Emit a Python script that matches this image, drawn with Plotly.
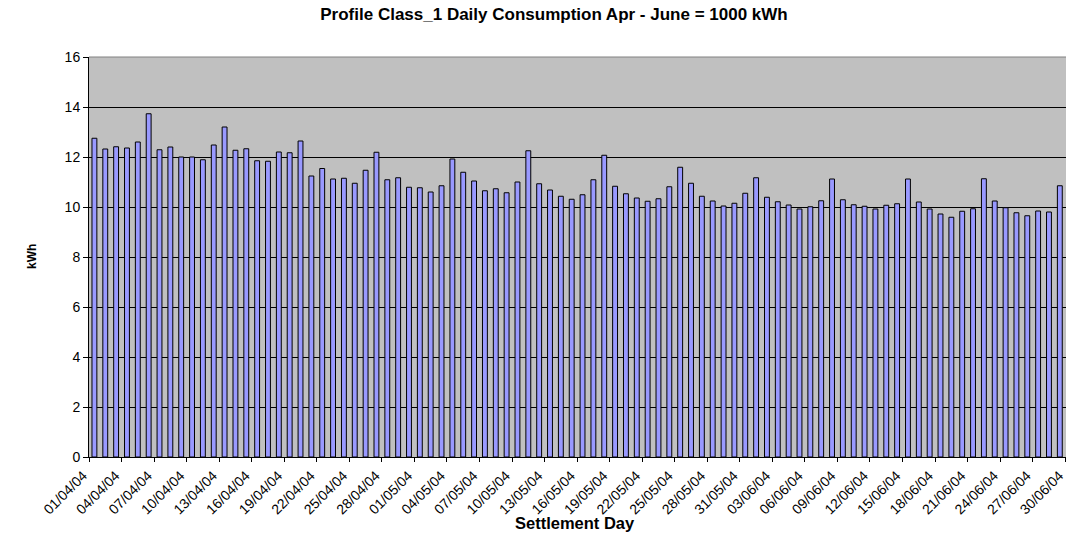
import datetime as dt
import plotly.graph_objects as go

# ---- data ----
start = dt.date(2004, 4, 1)
days = [(start + dt.timedelta(days=i)).strftime("%d/%m/%y") for i in range(91)]

kwh = [
    12.75, 12.32, 12.41, 12.36, 12.60, 13.73, 12.29, 12.40, 12.00, 12.00,
    11.89, 12.48, 13.20, 12.27, 12.33, 11.85, 11.83, 12.20, 12.17, 12.64,
    11.24, 11.54, 11.12, 11.15, 10.95, 11.47, 12.19, 11.09, 11.17, 10.79,
    10.77, 10.60, 10.85, 11.92, 11.39, 11.04, 10.65, 10.73, 10.57, 11.00,
    12.25, 10.93, 10.68, 10.43, 10.31, 10.49, 11.09, 12.07, 10.83, 10.53,
    10.36, 10.23, 10.33, 10.81, 11.59, 10.95, 10.43, 10.24, 10.04, 10.15,
    10.55, 11.17, 10.39, 10.21, 10.08, 9.92, 10.01, 10.25, 11.12, 10.29,
    10.09, 10.03, 9.92, 10.07, 10.13, 11.12, 10.20, 9.92, 9.72, 9.59,
    9.83, 9.93, 11.13, 10.24, 9.97, 9.77, 9.65, 9.84, 9.80, 10.85,
]

tick_labels = days[::3]
y_ticks = [0, 2, 4, 6, 8, 10, 12, 14, 16]

FONT = "Liberation Sans, Arial, sans-serif"

W, H = 1066, 535
L, R, T, B = 89, 0, 57, 78

fig = go.Figure()
fig.add_trace(go.Bar(
    x=days[:len(kwh)],
    y=kwh,
    marker=dict(color="#9999FF", line=dict(color="#000000", width=1)),
    hoverinfo="x+y",
))

plot_w = W - L - R
plot_h = H - T - B

fig.update_layout(
    width=W,
    height=H,
    margin=dict(l=L, r=R, t=T, b=B, autoexpand=False),
    paper_bgcolor="white",
    plot_bgcolor="#C0C0C0",
    bargap=0.55,
    showlegend=False,
    font=dict(family=FONT, size=14, color="black"),
    title=dict(
        text="<b>Profile Class_1 Daily Consumption Apr - June = 1000 kWh</b>",
        font=dict(family=FONT, size=17, color="black"),
        x=554 / W, xanchor="center", xref="container",
        y=1 - 14 / H, yanchor="middle", yref="container",
    ),
    xaxis=dict(
        type="category",
        categoryorder="array",
        categoryarray=days,
        range=[-0.5, 89.57],
        tickmode="array",
        tickvals=[3 * i - 0.5 for i in range(len(tick_labels))],
        ticktext=tick_labels,
        tickangle=-45,
        ticks="outside",
        ticklen=4,
        tickcolor="black",
        ticklabelshift=-6,
        showgrid=False,
        showline=True,
        linecolor="black",
        linewidth=1,
        tickfont=dict(family=FONT, size=14),
        zeroline=False,
        fixedrange=True,
        automargin=False,
    ),
    yaxis=dict(
        range=[0, 16],
        tickmode="array",
        tickvals=y_ticks,
        ticks="outside",
        ticklen=5,
        tickcolor="black",
        showgrid=True,
        gridcolor="black",
        gridwidth=1,
        showline=True,
        linecolor="black",
        linewidth=1,
        zeroline=False,
        tickfont=dict(family=FONT, size=14),
        fixedrange=True,
        automargin=False,
    ),
    annotations=[
        dict(text="<b>Settlement Day</b>", xref="paper", yref="paper",
             x=(575 - L) / plot_w, y=-(523 - (H - B)) / plot_h,
             xanchor="center", yanchor="middle",
             showarrow=False, font=dict(family=FONT, size=16.5)),
        dict(text="<b>kWh</b>", xref="paper", yref="paper",
             x=-(L - 32) / plot_w, y=0.5, xanchor="center", yanchor="middle",
             textangle=-90, showarrow=False, font=dict(family=FONT, size=12)),
    ],
    shapes=[
        dict(type="line", xref="paper", yref="paper", x0=0, x1=1, y0=1, y1=1,
             line=dict(color="#808080", width=1)),
    ],
)

fig.write_html(
    "out.html",
    config={"displayModeBar": False},
    post_script="document.body.style.margin='0';document.body.style.overflow='hidden';",
)
